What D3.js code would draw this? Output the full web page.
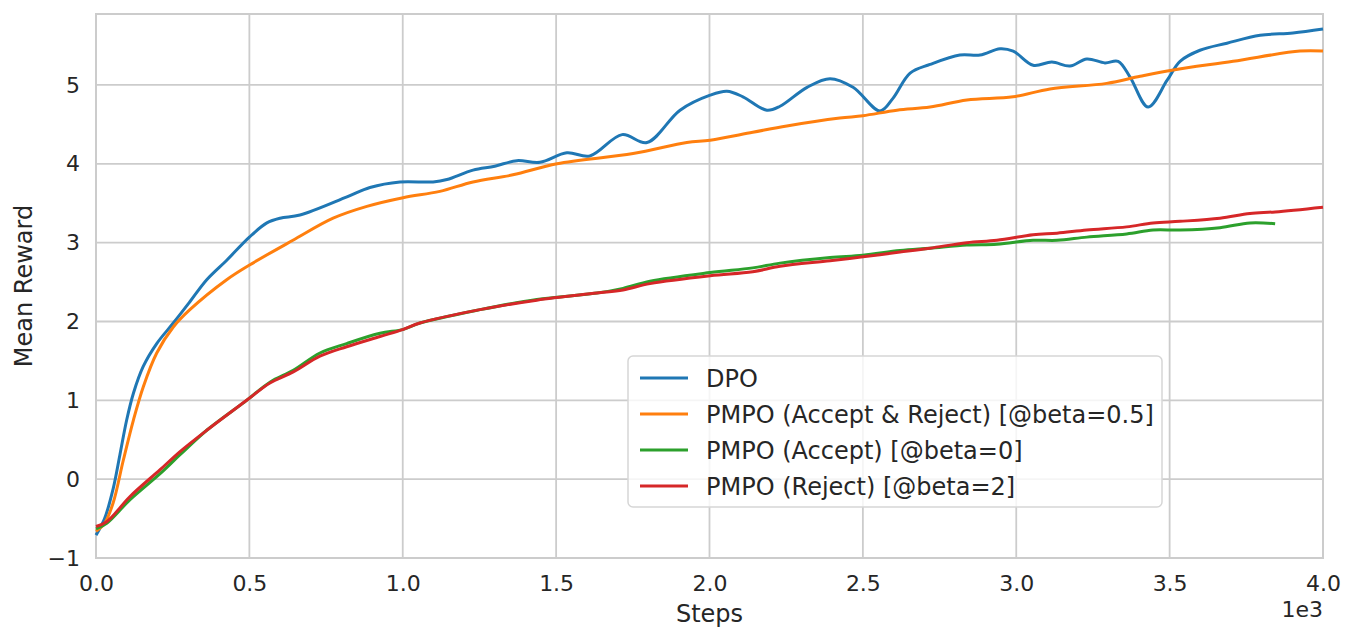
<!DOCTYPE html>
<html>
<head>
<meta charset="utf-8">
<script src="https://cdn.jsdelivr.net/npm/d3@7"></script>
<style>
  body { margin: 0; background: #fff; }
  text { font-family: "DejaVu Sans", sans-serif; fill: #262626; }
</style>
</head>
<body>
<div id="chart"></div>
<script>
// values
const dpoSteps  = [0, 28, 56, 78, 100, 122, 154, 198, 252, 306, 361, 427, 500, 557, 600, 665, 818, 893, 991, 1099, 1144, 1229, 1300, 1372, 1447, 1535, 1610, 1715, 1796, 1904, 2002, 2057, 2109, 2187, 2230, 2318, 2393, 2468, 2556, 2598, 2654, 2719, 2816, 2882, 2947, 2990, 3055, 3116, 3175, 3230, 3289, 3332, 3371, 3430, 3492, 3534, 3599, 3687, 3795, 3902, 4000];
const dpoReward = [-0.71, -0.50, -0.12, 0.31, 0.75, 1.09, 1.43, 1.72, 1.98, 2.25, 2.53, 2.78, 3.07, 3.25, 3.31, 3.35, 3.58, 3.70, 3.77, 3.77, 3.80, 3.92, 3.97, 4.04, 4.02, 4.14, 4.10, 4.37, 4.27, 4.68, 4.87, 4.92, 4.85, 4.68, 4.73, 4.97, 5.08, 4.97, 4.67, 4.83, 5.15, 5.26, 5.38, 5.38, 5.46, 5.43, 5.25, 5.29, 5.24, 5.33, 5.28, 5.30, 5.10, 4.72, 5.06, 5.30, 5.44, 5.53, 5.63, 5.66, 5.71];

const arSteps  = [0, 28, 56, 89, 122, 154, 198, 252, 306, 426, 502, 642, 773, 883, 1001, 1121, 1229, 1359, 1503, 1751, 1926, 2002, 2141, 2252, 2425, 2500, 2611, 2719, 2839, 2990, 3110, 3295, 3404, 3512, 3707, 3925, 4000];
const arReward = [-0.66, -0.56, -0.30, 0.24, 0.75, 1.17, 1.60, 1.93, 2.15, 2.53, 2.72, 3.03, 3.31, 3.46, 3.57, 3.65, 3.77, 3.86, 4.00, 4.13, 4.27, 4.30, 4.40, 4.48, 4.58, 4.61, 4.68, 4.72, 4.81, 4.85, 4.95, 5.02, 5.11, 5.19, 5.30, 5.43, 5.43];

const acSteps  = [0, 35, 111, 209, 274, 361, 491, 567, 643, 730, 817, 926, 1002, 1056, 1252, 1437, 1633, 1718, 1806, 2002, 2141, 2230, 2393, 2500, 2621, 2719, 2839, 2937, 3055, 3133, 3230, 3360, 3446, 3534, 3664, 3762, 3844];
const acReward = [-0.63, -0.56, -0.26, 0.07, 0.31, 0.62, 1.00, 1.23, 1.38, 1.60, 1.72, 1.85, 1.90, 1.98, 2.15, 2.28, 2.36, 2.42, 2.51, 2.62, 2.68, 2.74, 2.81, 2.84, 2.90, 2.93, 2.97, 2.98, 3.03, 3.03, 3.07, 3.11, 3.16, 3.16, 3.19, 3.25, 3.24];

const rjSteps  = [0, 35, 111, 209, 274, 361, 491, 567, 643, 730, 817, 926, 1002, 1056, 1252, 1437, 1633, 1718, 1806, 2002, 2141, 2230, 2393, 2500, 2621, 2719, 2839, 2937, 3055, 3133, 3230, 3360, 3446, 3534, 3664, 3762, 3844, 4000];
const rjReward = [-0.60, -0.54, -0.22, 0.12, 0.35, 0.62, 1.00, 1.22, 1.36, 1.56, 1.68, 1.81, 1.90, 1.98, 2.15, 2.27, 2.36, 2.40, 2.48, 2.58, 2.63, 2.70, 2.77, 2.82, 2.88, 2.93, 3.00, 3.03, 3.10, 3.12, 3.16, 3.20, 3.25, 3.27, 3.31, 3.37, 3.39, 3.45];

const seriesNames  = ["DPO", "PMPO (Accept & Reject) [@beta=0.5]", "PMPO (Accept) [@beta=0]", "PMPO (Reject) [@beta=2]"];
const seriesColors = ["#1f77b4", "#ff7f0e", "#2ca02c", "#d62728"];
const xTicks = [0, 500, 1000, 1500, 2000, 2500, 3000, 3500, 4000];
const yTicks = [-1, 0, 1, 2, 3, 4, 5];

const W = 1356, H = 642;
const m = { left: 96, top: 14, right: 33, bottom: 84 };
const iw = W - m.left - m.right, ih = H - m.top - m.bottom;

const svg = d3.select("#chart").append("svg")
  .attr("width", W).attr("height", H);
const g = svg.append("g").attr("transform", `translate(${m.left},${m.top})`);

const x = d3.scaleLinear().domain([0, 4000]).range([0, iw]);
const y = d3.scaleLinear().domain([-1, 5.9]).range([ih, 0]);

// grid
g.selectAll(".gx").data(xTicks).enter().append("line")
  .attr("x1", d => x(d)).attr("x2", d => x(d))
  .attr("y1", 0).attr("y2", ih)
  .attr("stroke", "#cccccc").attr("stroke-width", 1.8);
g.selectAll(".gy").data(yTicks).enter().append("line")
  .attr("x1", 0).attr("x2", iw)
  .attr("y1", d => y(d)).attr("y2", d => y(d))
  .attr("stroke", "#cccccc").attr("stroke-width", 1.8);

// tick labels
const xAxis = g.append("g").attr("transform", `translate(0,${ih})`)
  .call(d3.axisBottom(x).tickValues(xTicks).tickSize(0).tickPadding(17)
    .tickFormat(d => (d / 1000).toFixed(1)));
const yAxis = g.append("g")
  .call(d3.axisLeft(y).tickValues(yTicks).tickSize(0).tickPadding(16)
    .tickFormat(d => d < 0 ? "\u2212" + Math.abs(d) : d));
[xAxis, yAxis].forEach(a => {
  a.select(".domain").remove();
  a.selectAll("text").style("font-size", "22px").attr("fill", "#262626");
});

// frame
g.append("rect").attr("width", iw).attr("height", ih)
  .attr("fill", "none").attr("stroke", "#cccccc").attr("stroke-width", 2);

// lines
const allSeries = [
  dpoSteps.map((s, i) => [s, dpoReward[i]]),
  arSteps.map((s, i) => [s, arReward[i]]),
  acSteps.map((s, i) => [s, acReward[i]]),
  rjSteps.map((s, i) => [s, rjReward[i]])
];
const line = d3.line().x(d => x(d[0])).y(d => y(d[1])).curve(d3.curveCatmullRom.alpha(0.5));
allSeries.forEach((pts, i) => {
  g.append("path").datum(pts)
    .attr("fill", "none")
    .attr("stroke", seriesColors[i])
    .attr("stroke-width", 3)
    .attr("stroke-linejoin", "round")
    .attr("d", line);
});

// axis labels
svg.append("text").attr("x", m.left + iw / 2).attr("y", 622)
  .attr("text-anchor", "middle").style("font-size", "24px").text("Steps");
svg.append("text").attr("transform", `translate(32,${m.top + ih / 2}) rotate(-90)`)
  .attr("text-anchor", "middle").style("font-size", "24px").text("Mean Reward");
svg.append("text").attr("x", m.left + iw).attr("y", 617)
  .attr("text-anchor", "end").style("font-size", "22px").text("1e3");

// legend
const lg = svg.append("g").attr("transform", "translate(628,356)");
lg.append("rect").attr("width", 534).attr("height", 151).attr("rx", 5)
  .attr("fill", "rgba(255,255,255,0.8)").attr("stroke", "#d6d6d6").attr("stroke-width", 1.5);
seriesNames.forEach((name, i) => {
  const yy = 22 + i * 36;
  lg.append("line").attr("x1", 12).attr("x2", 60).attr("y1", yy).attr("y2", yy)
    .attr("stroke", seriesColors[i]).attr("stroke-width", 3);
  lg.append("text").attr("x", 78).attr("y", yy).attr("dy", "0.36em")
    .style("font-size", "24px").text(name);
});
</script>
</body>
</html>
